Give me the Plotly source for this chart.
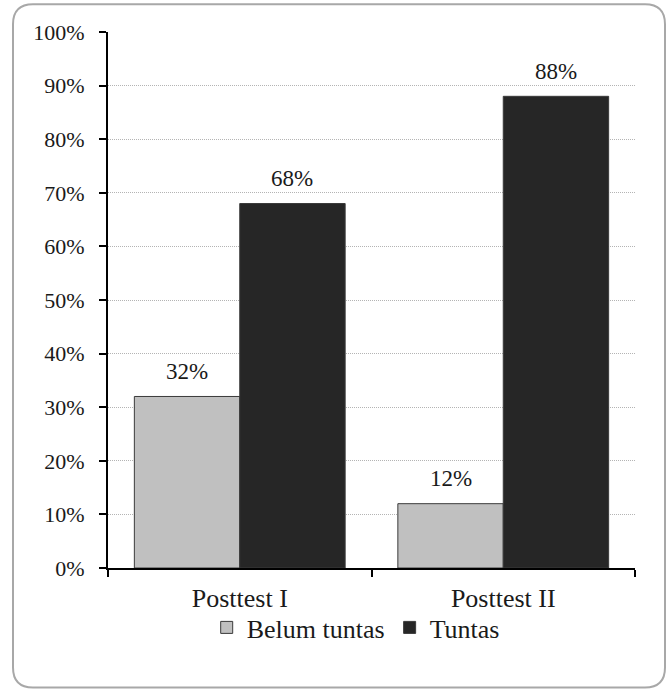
import plotly.graph_objects as go

# Data
categories = ["Posttest I", "Posttest II"]
belum_tuntas = [32, 12]
tuntas = [68, 88]
y_ticks = [0, 10, 20, 30, 40, 50, 60, 70, 80, 90, 100]

W, H = 672, 690
L, R, T, B = 108, 37, 31.7, 121.7
pw, ph = W - L - R, H - T - B
BARGAP = 0.2

FONT = "Liberation Serif"
TXT = "#1a1a1a"

series = [
    ("Belum tuntas", belum_tuntas, "#c0c0c0"),
    ("Tuntas", tuntas, "#262626"),
]

fig = go.Figure()
for name, vals, color in series:
    fig.add_trace(go.Bar(
        name=name, x=categories, y=vals,
        marker=dict(color=color, line=dict(color="#3a3a3a", width=1)),
    ))

# value labels above each bar
slot = pw / len(categories) * (1 - BARGAP) / len(series)
annotations = []
for i, (name, vals, _) in enumerate(series):
    shift = (i - (len(series) - 1) / 2) * slot
    for cat, v in zip(categories, vals):
        annotations.append(dict(
            x=cat, y=v, xref="x", yref="y", text=f"{v}%", showarrow=False,
            xshift=shift, yshift=25, yanchor="middle",
            font=dict(family=FONT, size=23, color=TXT),
        ))


def px_x(p):
    return (p - L) / pw


def px_y(p):
    return (H - B - p) / ph


# rounded frame around the whole chart
x0, x1, y0, y1, r = 13, 665, 4, 688, 20
path = (
    f"M {px_x(x0 + r)},{px_y(y0)} L {px_x(x1 - r)},{px_y(y0)} "
    f"Q {px_x(x1)},{px_y(y0)} {px_x(x1)},{px_y(y0 + r)} "
    f"L {px_x(x1)},{px_y(y1 - r)} "
    f"Q {px_x(x1)},{px_y(y1)} {px_x(x1 - r)},{px_y(y1)} "
    f"L {px_x(x0 + r)},{px_y(y1)} "
    f"Q {px_x(x0)},{px_y(y1)} {px_x(x0)},{px_y(y1 - r)} "
    f"L {px_x(x0)},{px_y(y0 + r)} "
    f"Q {px_x(x0)},{px_y(y0)} {px_x(x0 + r)},{px_y(y0)} Z"
)

fig.update_layout(
    width=W, height=H,
    margin=dict(l=L, r=R, t=T, b=B, autoexpand=False),
    paper_bgcolor="white", plot_bgcolor="white",
    barmode="group", bargap=BARGAP, bargroupgap=0,
    font=dict(family=FONT, size=22, color=TXT),
    annotations=annotations,
    shapes=[dict(type="path", xref="paper", yref="paper", path=path,
                 line=dict(color="#a8a8a8", width=2), fillcolor="rgba(0,0,0,0)",
                 layer="below")],
    legend=dict(orientation="h", x=0.47, xanchor="center", y=-0.111, yanchor="middle",
                font=dict(family=FONT, size=26, color=TXT), itemwidth=30,
                traceorder="normal", bgcolor="rgba(0,0,0,0)"),
    showlegend=True,
)
fig.update_yaxes(
    range=[0, 100], tickvals=y_ticks, ticktext=[f"{v}%" for v in y_ticks],
    tickfont=dict(family=FONT, size=22, color=TXT), ticklabelstandoff=10,
    showgrid=True, gridcolor="#b4b4b4", griddash="1px,1px", gridwidth=1,
    showline=True, linecolor="black", linewidth=2,
    ticks="outside", ticklen=7, tickwidth=2, tickcolor="black",
    zeroline=False, fixedrange=True,
)
fig.update_xaxes(
    tickfont=dict(family=FONT, size=26, color=TXT), ticklabelstandoff=6,
    showline=True, linecolor="black", linewidth=2,
    ticks="outside", tickson="boundaries", ticklen=7, tickwidth=2, tickcolor="black",
    showgrid=False, fixedrange=True,
)

fig.write_html("out.html")
